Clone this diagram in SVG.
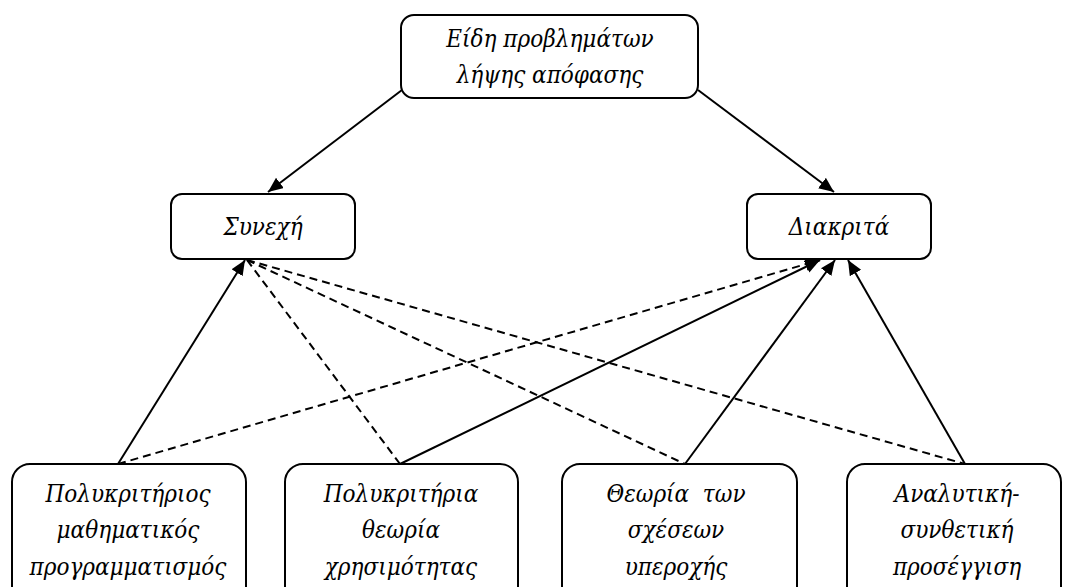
<svg xmlns="http://www.w3.org/2000/svg" width="1073" height="587" viewBox="0 0 1073 587">
<style>
.box{fill:#fff;stroke:#000;stroke-width:2}
.t{font-family:"DejaVu Serif Condensed","DejaVu Serif",serif;font-stretch:condensed;font-style:italic;font-size:24px;fill:#000;text-anchor:middle}
.c{stroke:#000;stroke-width:2;fill:none}
.d{stroke-dasharray:8 5}
</style>
<defs>
<marker id="ah" markerUnits="userSpaceOnUse" markerWidth="16" markerHeight="14" refX="15" refY="6.5" orient="auto">
<path d="M0,0 L15,6.5 L0,13 z" fill="#000"/>
</marker>
</defs>
<rect width="1073" height="587" fill="#fff"/>
<g id="connectors">
<line class="c" x1="402" y1="90" x2="268" y2="192" marker-end="url(#ah)"/>
<line class="c" x1="698" y1="90" x2="834" y2="192" marker-end="url(#ah)"/>
<line class="c" x1="118" y1="464" x2="245" y2="260" marker-end="url(#ah)"/>
<line class="c" x1="400" y1="464" x2="820" y2="260" marker-end="url(#ah)"/>
<line class="c" x1="685" y1="464" x2="835" y2="260" marker-end="url(#ah)"/>
<line class="c" x1="965" y1="464" x2="848" y2="260" marker-end="url(#ah)"/>
<line class="c d" x1="118" y1="464" x2="820" y2="260" marker-end="url(#ah)"/>
<line class="c d" x1="247" y1="260" x2="400" y2="464"/>
<line class="c d" x1="247" y1="260" x2="685" y2="464"/>
<line class="c d" x1="247" y1="260" x2="965" y2="464"/>
</g>
<g id="root">
<rect class="box" x="401" y="15" width="297" height="83" rx="13"/>
<text class="t" x="550" y="47">Είδη προβλημάτων</text>
<text class="t" x="550" y="83">λήψης απόφασης</text>
</g>
<g id="synechi">
<rect class="box" x="171" y="194" width="184" height="65" rx="11"/>
<text class="t" x="263" y="235">Συνεχή</text>
</g>
<g id="diakrita">
<rect class="box" x="747" y="194" width="184" height="65" rx="11"/>
<text class="t" x="839" y="235">Διακριτά</text>
</g>
<g id="n1">
<rect class="box" x="12" y="464" width="234" height="140" rx="18"/>
<text class="t" x="128" y="502">Πολυκριτήριος</text>
<text class="t" x="128" y="538">μαθηματικός</text>
<text class="t" x="128" y="575">προγραμματισμός</text>
</g>
<g id="n2">
<rect class="box" x="285" y="464" width="233" height="140" rx="18"/>
<text class="t" x="401" y="502">Πολυκριτήρια</text>
<text class="t" x="401" y="538">θεωρία</text>
<text class="t" x="401" y="575">χρησιμότητας</text>
</g>
<g id="n3">
<rect class="box" x="562" y="464" width="235" height="140" rx="18"/>
<text class="t" x="676" y="502" xml:space="preserve">Θεωρία  των</text>
<text class="t" x="676" y="538">σχέσεων</text>
<text class="t" x="676" y="575">υπεροχής</text>
</g>
<g id="n4">
<rect class="box" x="847" y="464" width="214" height="140" rx="18"/>
<text class="t" x="957" y="502">Αναλυτική-</text>
<text class="t" x="957" y="538">συνθετική</text>
<text class="t" x="957" y="575">προσέγγιση</text>
</g>
</svg>
